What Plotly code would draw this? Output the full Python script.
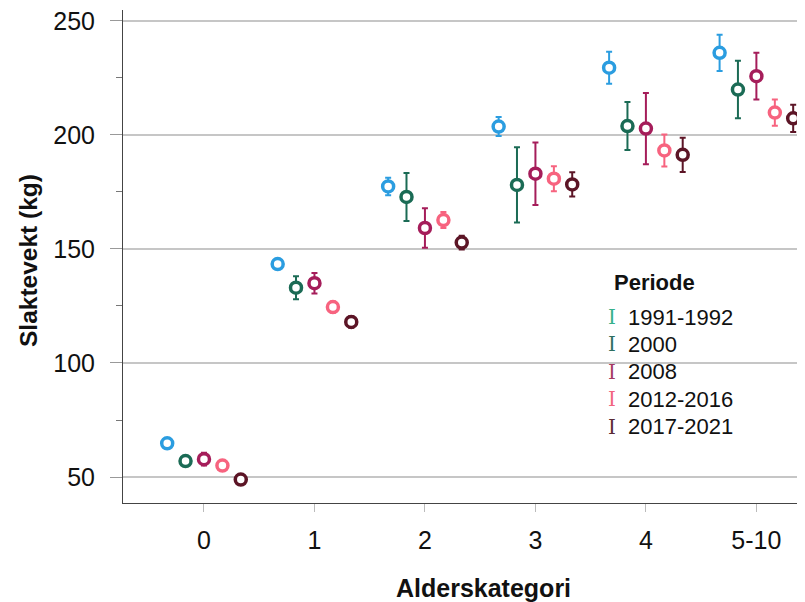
import plotly.graph_objects as go

categories = ["0", "1", "2", "3", "4", "5-10"]
periods = ["1991-1992", "2000", "2008", "2012-2016", "2017-2021"]

v_1991 = [64.8, 143.4, 177.4, 203.7, 229.5, 236.0]
e_1991 = [1.3, 1.5, 3.8, 4.2, 7.0, 8.0]
v_2000 = [57.0, 133.0, 172.8, 178.1, 203.9, 219.9]
e_2000 = [1.5, 5.0, 10.5, 16.5, 10.5, 12.6]
v_2008 = [57.8, 135.0, 159.2, 183.0, 202.8, 225.8]
e_2008 = [2.8, 4.5, 8.7, 13.7, 15.6, 10.2]
v_2012 = [55.0, 124.5, 162.7, 180.8, 193.2, 209.8]
e_2012 = [1.5, 2.5, 3.5, 5.5, 7.0, 5.8]
v_2017 = [48.9, 118.0, 152.8, 178.3, 191.3, 207.3]
e_2017 = [1.5, 2.5, 3.0, 5.3, 7.5, 6.0]

series_vals = [v_1991, v_2000, v_2008, v_2012, v_2017]
series_errs = [e_1991, e_2000, e_2008, e_2012, e_2017]

marker_colors = ["#2b9de0", "#1b6b55", "#a51d5a", "#f7637f", "#5c1526"]
legend_colors = ["#36b08a", "#2e6e5f", "#a53a62", "#f16480", "#5a2a33"]
offsets = [-0.333, -0.167, 0.0, 0.167, 0.333]

FONT = "Liberation Sans, Arial, sans-serif"

fig = go.Figure()
for name, vals, errs, col, off in zip(periods, series_vals, series_errs, marker_colors, offsets):
    fig.add_trace(go.Scatter(
        x=[i + off for i in range(len(categories))],
        y=vals,
        mode="markers",
        name=name,
        showlegend=False,
        marker=dict(symbol="circle", size=11, color="white",
                    line=dict(color=col, width=3.5)),
        error_y=dict(type="data", array=errs, visible=True,
                     color=col, thickness=2, width=3),
    ))

# page offset of the figure (default body margin)
OFF = 8
# plot-area geometry in page pixels
L, R, T, B = 123, 805, 10, 503
W, H = 805 - OFF, 602 - OFF
def px(x):
    return (x - L) / (R - L)
def py(y):
    return (B - y) / (B - T)

annotations = [dict(text="<b>Periode</b>", xref="paper", yref="paper",
                    x=px(612), y=py(282), xanchor="left", yanchor="middle",
                    showarrow=False, font=dict(family=FONT, size=22, color="#111"))]
for k, (name, lc) in enumerate(zip(periods, legend_colors)):
    yy = 317 + k * 27.4
    annotations.append(dict(text="I", xref="paper", yref="paper",
                            x=px(612), y=py(yy), xanchor="center", yanchor="middle",
                            showarrow=False,
                            font=dict(family="DejaVu Serif, serif", size=20, color=lc)))
    annotations.append(dict(text=name, xref="paper", yref="paper",
                            x=px(626), y=py(yy), xanchor="left", yanchor="middle",
                            showarrow=False,
                            font=dict(family=FONT, size=22, color="#111")))

annotations.append(dict(text="<b>Alderskategori</b>", xref="paper", yref="paper",
                        x=px(483), y=py(588), xanchor="center", yanchor="middle",
                        showarrow=False, font=dict(family=FONT, size=25, color="#111")))
annotations.append(dict(text="<b>Slaktevekt (kg)</b>", xref="paper", yref="paper",
                        x=px(28), y=py(261), xanchor="center", yanchor="middle",
                        textangle=-90,
                        showarrow=False, font=dict(family=FONT, size=24.5, color="#111")))

fig.update_layout(
    width=W, height=H,
    margin=dict(l=L - OFF, r=W - (R - OFF), t=T - OFF, b=H - (B - OFF), pad=0),
    paper_bgcolor="white", plot_bgcolor="white",
    font=dict(family=FONT, size=22, color="#111"),
    showlegend=False,
    annotations=annotations,
    xaxis=dict(
        range=[-0.733, 5.44],
        tickmode="array", tickvals=list(range(len(categories))), ticktext=categories,
        showgrid=False, zeroline=False,
        showline=True, linecolor="#444", linewidth=1,
        ticks="outside", ticklen=8, tickcolor="#bbb", tickwidth=1,
        ticklabelstandoff=7,
        ticklabeloverflow="allow",
        tickfont=dict(family=FONT, size=25, color="#111"),
    ),
    yaxis=dict(
        range=[38.6, 254.8],
        tickmode="array", tickvals=[50, 100, 150, 200, 250],
        showgrid=True, gridcolor="#c6c6c6", gridwidth=1.5,
        zeroline=False,
        showline=True, linecolor="#444", linewidth=1,
        ticks="outside", ticklen=12, tickcolor="#999", tickwidth=1,
        ticklabelstandoff=10,
        ticklabeloverflow="allow",
        minor=dict(tickmode="array", tickvals=[75, 125, 175, 225],
                   ticks="outside", ticklen=6, tickcolor="#777", showgrid=False),
        tickfont=dict(family=FONT, size=25, color="#111"),
    ),
)

fig.write_html("out.html")
